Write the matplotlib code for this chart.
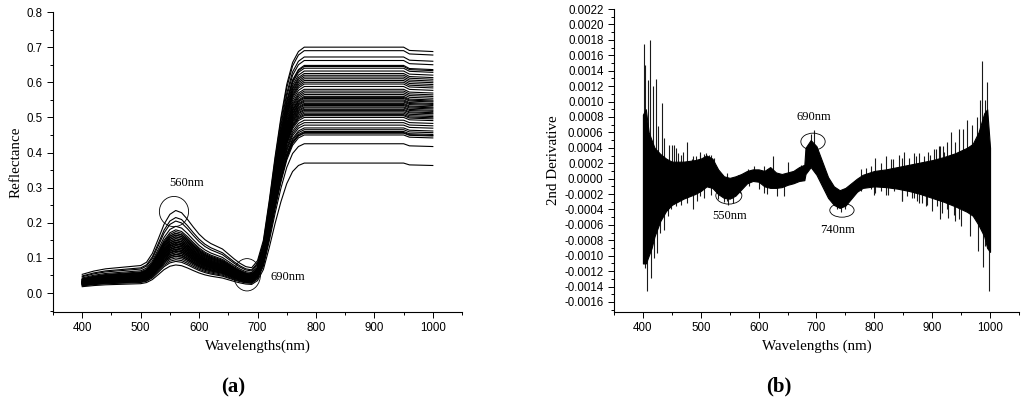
import numpy as np
import matplotlib
matplotlib.use("Agg")
import matplotlib.pyplot as plt
from matplotlib.patches import Ellipse
from matplotlib.ticker import MultipleLocator, FormatStrFormatter

# --- panel (a): reflectance spectra -------------------------------------
wl_knots = [400, 420, 440, 460, 480, 500, 510, 520, 530, 540, 550, 560, 570,
            580, 590, 600, 610, 620, 630, 640, 650, 660, 670, 680, 690, 700,
            710, 720, 730, 740, 750, 760, 770, 780, 800, 850, 900, 950, 960, 1000]
# visible reflectance of a typical leaf (green peak 0.15 at 560 nm)
vis_profile = [0.034, 0.040, 0.044, 0.046, 0.048, 0.050, 0.056, 0.072, 0.098,
               0.125, 0.143, 0.150, 0.146, 0.134, 0.120, 0.107, 0.097, 0.090,
               0.085, 0.080, 0.071, 0.062, 0.054, 0.048, 0.046, 0.047, 0.048,
               0.048, 0.048, 0.048, 0.048, 0.048, 0.048, 0.048, 0.048, 0.048,
               0.048, 0.048, 0.048, 0.048]
# share of the NIR plateau reached along the red edge
edge_fraction = [0, 0, 0, 0, 0, 0, 0, 0, 0, 0, 0, 0, 0, 0, 0, 0, 0, 0, 0, 0,
                 0, 0, 0, 0, 0, 0.03, 0.12, 0.30, 0.50, 0.68, 0.83, 0.93, 0.98,
                 1.0, 1.0, 1.0, 1.0, 1.0, 0.985, 0.98]
typical_peak = 0.15
nir_plateau = [0.700, 0.690, 0.672, 0.662, 0.648, 0.645, 0.640, 0.632, 0.625,
               0.620, 0.615, 0.610, 0.605, 0.600, 0.595, 0.588, 0.580, 0.575,
               0.570, 0.565, 0.560, 0.557, 0.554, 0.550, 0.547, 0.544, 0.540,
               0.537, 0.534, 0.530, 0.527, 0.523, 0.520, 0.516, 0.512, 0.508,
               0.505, 0.500, 0.492, 0.485, 0.478, 0.470, 0.465, 0.460, 0.457,
               0.455, 0.450, 0.425, 0.370]
green_peak = [0.235, 0.215, 0.205, 0.190, 0.175, 0.160, 0.170, 0.150, 0.140,
              0.165, 0.130, 0.155, 0.120, 0.145, 0.135, 0.125, 0.160, 0.110,
              0.150, 0.140, 0.130, 0.120, 0.170, 0.115, 0.145, 0.135, 0.105,
              0.155, 0.125, 0.140, 0.110, 0.130, 0.150, 0.120, 0.100, 0.165,
              0.135, 0.140, 0.120, 0.125, 0.145, 0.115, 0.130, 0.105, 0.110,
              0.180, 0.095, 0.090, 0.080]

# --- panel (b): second derivative, values in units of 1e-4 -------------
core_wl = [400, 405, 410, 415, 420, 430, 440, 450, 460, 470, 480, 490, 500,
           510, 520, 530, 540, 550, 560, 570, 580, 590, 600, 610, 620, 630,
           640, 650, 660, 670, 679, 681, 690, 700, 710, 720, 730, 740, 750,
           760, 770, 780, 800, 820, 840, 860, 880, 900, 920, 940, 960, 970,
           980, 990, 995, 1000]
core_hi = [8.3, 9.0, 6.0, 5.0, 4.0, 3.2, 2.6, 2.2, 2.2, 2.2, 2.3, 2.4, 2.6,
           3.0, 2.6, 1.2, 0.3, 0.1, 0.3, 0.6, 1.0, 1.2, 1.2, 1.0, 1.5, 0.8,
           0.6, 0.8, 1.0, 1.5, 1.8, 4.0, 5.0, 4.2, 2.2, 0.2, -1.0, -1.5, -1.2,
           -0.6, 0.0, 0.5, 1.0, 1.2, 1.5, 1.8, 2.1, 2.4, 2.8, 3.3, 4.0, 4.5,
           6.0, 8.5, 9.0, 4.0]
core_lo = [-11.0, -11.0, -10.0, -9.0, -7.5, -5.5, -4.2, -3.4, -3.0, -2.6,
           -2.3, -2.0, -1.6, -1.0, -1.2, -2.0, -2.5, -2.6, -2.2, -1.4, -0.6,
           -0.3, -0.4, -1.0, -1.2, -1.2, -1.1, -0.8, -0.6, -0.3, -0.2, 0.6,
           1.5, 0.5, -1.0, -2.5, -3.4, -3.8, -3.5, -2.6, -1.7, -1.2, -1.0,
           -1.1, -1.3, -1.6, -2.0, -2.5, -3.0, -3.6, -4.3, -4.8, -6.0, -7.5,
           -9.0, -9.5]
# upward spikes standing out of the band (drawn from zero)
up_wl = [402, 404, 408, 413, 417, 422, 426, 433,
         437, 445, 451, 453, 457, 461, 466, 468.5,
         476, 484, 486, 491.5, 498, 499, 506, 509,
         514.5, 517, 523, 532, 546, 563.5, 581, 592,
         609.5, 624, 650, 673, 776.5, 785, 794, 802,
         811, 820, 828, 833, 843, 848, 851, 860,
         868.5, 872, 877, 886, 893, 896, 903, 906,
         911, 913.5, 919, 920.5, 926, 932, 939, 946,
         954, 961, 969, 977, 982.5, 985.5, 992, 995]
up_tip = [17.4, 14.8, 12.8, 18.0, 12.0, 12.9, 6.8, 9.8,
          5.3, 4.4, 4.4, 4.4, 4.0, 3.3, 3.1, 3.5,
          4.7, 2.5, 2.9, 2.9, 3.1, 3.4, 3.2, 3.3,
          3.1, 3.1, 2.7, 0.9, 0.7, 0.5, 1.2, 1.6,
          1.6, 3.0, 2.2, 1.8, 1.2, 1.4, 1.6, 2.7,
          2.0, 2.9, 2.5, 2.5, 3.1, 2.7, 3.5, 2.7,
          3.3, 3.0, 3.3, 2.9, 3.5, 3.1, 3.8, 3.8,
          4.2, 4.2, 4.2, 3.5, 4.8, 6.1, 4.7, 6.4,
          6.4, 7.6, 7.0, 8.0, 10.2, 15.2, 10.2, 12.5]
# downward spikes (drawn from zero)
down_wl = [403, 407, 414, 418.5, 424, 429, 436, 443,
           449, 457, 466, 476, 486, 494, 498, 506,
           518, 584, 601, 609, 615, 632.6, 644, 776.5,
           794, 799, 802, 811, 820, 823, 834, 847,
           848, 857, 865, 868, 874, 877, 883, 889,
           891, 900, 908.5, 913, 917, 926, 927, 937.5,
           940, 946, 949, 965, 980, 987, 992, 999,
           529, 540, 546, 547, 554, 555, 567]
down_tip = [-11.6, -14.6, -12.9, -10.3, -9.6, -7.0, -6.6, -4.9,
            -4.0, -3.6, -3.4, -3.1, -4.0, -2.9, -2.3, -2.5,
            -2.1, -1.0, -1.4, -1.8, -2.0, -2.3, -2.2, -1.6,
            -1.4, -2.1, -1.9, -1.6, -2.1, -2.1, -1.6, -2.9,
            -2.9, -2.3, -2.5, -2.5, -2.9, -3.1, -3.2, -3.6,
            -3.4, -4.2, -3.6, -5.3, -4.5, -4.0, -5.1, -4.7,
            -5.5, -5.3, -6.2, -7.5, -9.4, -11.4, -8.8, -14.6,
            -2.7, -3.0, -2.9, -3.4, -2.5, -3.2, -1.9]
# spikes where the band lies off zero: wavelength, lower end, upper end
off_wl = [690, 696, 736, 743, 750]
off_lo = [3.0, 3.0, -4.0, -4.3, -4.0]
off_hi = [5.8, 6.3, -3.0, -3.0, -3.0]
DERIV_UNIT = 1e-4

SERIF = ["Liberation Serif", "DejaVu Serif"]
SANS = ["Liberation Sans", "DejaVu Sans"]


def style_axes(ax, xlabel, ylabel):
    ax.spines["top"].set_visible(False)
    ax.spines["right"].set_visible(False)
    ax.set_xlim(350, 1050)
    ax.xaxis.set_major_locator(MultipleLocator(100))
    ax.xaxis.set_minor_locator(MultipleLocator(50))
    ax.tick_params(which="both", direction="out", width=0.7, labelsize=8.3)
    ax.tick_params(which="major", length=4)
    ax.tick_params(which="minor", length=2.5)
    for lab in ax.get_xticklabels() + ax.get_yticklabels():
        lab.set_family(SANS)
    ax.set_xlabel(xlabel, family=SERIF, fontsize=10.8, labelpad=4)
    ax.set_ylabel(ylabel, family=SERIF, fontsize=10.8, labelpad=3)


def plot_reflectance(ax):
    wl = np.array(wl_knots, dtype=float)
    vis = np.array(vis_profile)
    edge = np.array(edge_fraction)
    for plateau, peak in zip(nir_plateau, green_peak):
        refl = vis * peak / typical_peak * (1 - edge) + plateau * edge
        ax.plot(wl, refl, color="black", lw=0.8)

    ax.add_patch(Ellipse((557, 0.232), 50, 0.086, fill=False, ec="black", lw=0.6))
    ax.add_patch(Ellipse((682, 0.052), 46, 0.092, fill=False, ec="black", lw=0.6))
    ax.text(579, 0.314, "560nm", family=SERIF, fontsize=9, ha="center", va="center")
    ax.text(752, 0.046, "690nm", family=SERIF, fontsize=9, ha="center", va="center")

    ax.set_ylim(-0.054, 0.8)
    ax.yaxis.set_major_locator(MultipleLocator(0.1))
    ax.yaxis.set_minor_locator(MultipleLocator(0.05))
    ax.yaxis.set_major_formatter(FormatStrFormatter("%.1f"))
    style_axes(ax, "Wavelengths(nm)", "Reflectance")


def plot_derivative(ax):
    u = DERIV_UNIT
    # spikes first, the solid band goes over their roots
    spike_style = dict(color="#1a1a1a", lw=0.8, zorder=1)
    ax.vlines(up_wl, 0, np.array(up_tip) * u, **spike_style)
    ax.vlines(down_wl, np.array(down_tip) * u, 0, **spike_style)
    ax.vlines(off_wl, np.array(off_lo) * u, np.array(off_hi) * u, **spike_style)
    ax.fill_between(core_wl, np.array(core_lo) * u, np.array(core_hi) * u,
                    facecolor="black", edgecolor="black", lw=0.8, zorder=2)

    ax.add_patch(Ellipse((694, 0.00048), 42, 0.00022, fill=False, ec="black", lw=0.6, zorder=3))
    ax.add_patch(Ellipse((548.5, -0.00022), 45, 0.00022, fill=False, ec="black", lw=0.6, zorder=3))
    ax.add_patch(Ellipse((744, -0.00041), 42, 0.00018, fill=False, ec="black", lw=0.6, zorder=3))
    ax.text(695, 0.0008, "690nm", family=SERIF, fontsize=9, ha="center", va="center")
    ax.text(550, -0.00049, "550nm", family=SERIF, fontsize=9, ha="center", va="center")
    ax.text(737, -0.00067, "740nm", family=SERIF, fontsize=9, ha="center", va="center")

    ax.set_ylim(-0.00173, 0.0022)
    ax.yaxis.set_major_locator(MultipleLocator(0.0002))
    ax.yaxis.set_minor_locator(MultipleLocator(0.0001))
    ax.yaxis.set_major_formatter(FormatStrFormatter("%.4f"))
    style_axes(ax, "Wavelengths (nm)", "2nd Derivative")


def main():
    fig = plt.figure(figsize=(10.24, 4.05), dpi=100)
    ax_a = fig.add_axes([0.0518, 0.2296, 0.3994, 0.7407])
    ax_b = fig.add_axes([0.5996, 0.2296, 0.3955, 0.7481])

    plot_reflectance(ax_a)
    plot_derivative(ax_b)

    fig.text(233 / 1024, 1 - 387 / 405, "(a)", family=SERIF, fontsize=15,
             fontweight="bold", ha="center", va="center")
    fig.text(779 / 1024, 1 - 386 / 405, "(b)", family=SERIF, fontsize=15,
             fontweight="bold", ha="center", va="center")

    fig.savefig("out.png", dpi=100)


if __name__ == "__main__":
    main()
